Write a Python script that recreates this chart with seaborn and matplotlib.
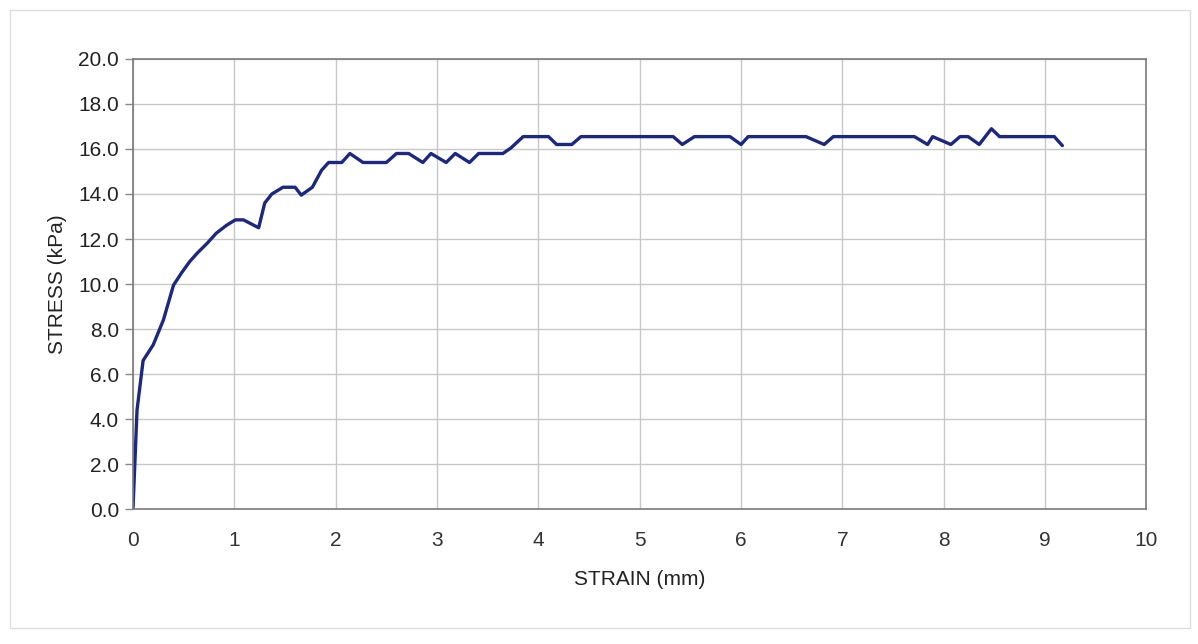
import numpy as np
import pandas as pd
import matplotlib.pyplot as plt
import seaborn as sns
from matplotlib.patches import Rectangle

# Values
strain = [0.0, 0.04, 0.10, 0.20, 0.30, 0.40, 0.48, 0.56, 0.64, 0.73, 0.82, 0.92,
          1.01, 1.09, 1.24, 1.30, 1.37, 1.48, 1.60, 1.66, 1.77, 1.86, 1.93, 2.06,
          2.14, 2.27, 2.50, 2.60, 2.72, 2.86, 2.94, 3.09, 3.18, 3.32, 3.41, 3.65,
          3.73, 3.85, 4.10, 4.18, 4.33, 4.42, 5.33, 5.42, 5.54, 5.89, 6.00, 6.07,
          6.64, 6.82, 6.91, 7.71, 7.84, 7.89, 8.07, 8.16, 8.24, 8.35, 8.47, 8.55,
          9.09, 9.17]
stress = [0.0, 4.4, 6.6, 7.3, 8.4, 9.95, 10.5, 11.0, 11.4, 11.8, 12.25, 12.6,
          12.85, 12.85, 12.5, 13.6, 14.0, 14.3, 14.3, 13.95, 14.3, 15.05, 15.4, 15.4,
          15.8, 15.4, 15.4, 15.8, 15.8, 15.4, 15.8, 15.4, 15.8, 15.4, 15.8, 15.8,
          16.05, 16.55, 16.55, 16.2, 16.2, 16.55, 16.55, 16.2, 16.55, 16.55, 16.2, 16.55,
          16.55, 16.2, 16.55, 16.55, 16.2, 16.55, 16.2, 16.55, 16.55, 16.2, 16.9, 16.55,
          16.55, 16.15]

x_ticks = list(range(0, 11))
y_ticks = [0, 2, 4, 6, 8, 10, 12, 14, 16, 18, 20]

df = pd.DataFrame({'strain': strain, 'stress': stress})

sns.set_theme(style="white")
plt.rcParams['font.family'] = ['Liberation Sans', 'DejaVu Sans']

fig = plt.figure(figsize=(11.98, 6.44), dpi=100)
ax = fig.add_axes([0.111, 0.2096, 0.846, 0.6988])

# faint outer chart border
fig.patches.append(Rectangle((0.008, 0.025), 0.985, 0.96, transform=fig.transFigure,
                             fill=False, edgecolor='#dddddd', linewidth=1))

sns.lineplot(data=df, x='strain', y='stress', ax=ax, color='#1c2880',
             linewidth=2.4, sort=False)

ax.set_xlim(0, 10)
ax.set_ylim(0, 20)
ax.set_xticks(x_ticks)
ax.set_yticks(y_ticks)
ax.set_xticklabels([str(t) for t in x_ticks], fontsize=15, color='#333333',
                   family=['Liberation Sans Narrow', 'Liberation Sans'])
ax.set_yticklabels([f'{t:.1f}' for t in y_ticks], fontsize=15, color='#222222')
ax.tick_params(axis='x', length=0, pad=16)
ax.tick_params(axis='y', length=6, width=1, color='#888888', left=True, pad=4)

ax.grid(True, color='#c8c8c8', linewidth=1)
for s in ax.spines.values():
    s.set_color('#7a7a7a')
    s.set_linewidth(1.2)

ax.set_xlabel('STRAIN (mm)', fontsize=15, color='#222222', labelpad=14)
ax.set_ylabel('STRESS (kPa)', fontsize=15, color='#222222', labelpad=8)

fig.savefig('out.png', dpi=100)
